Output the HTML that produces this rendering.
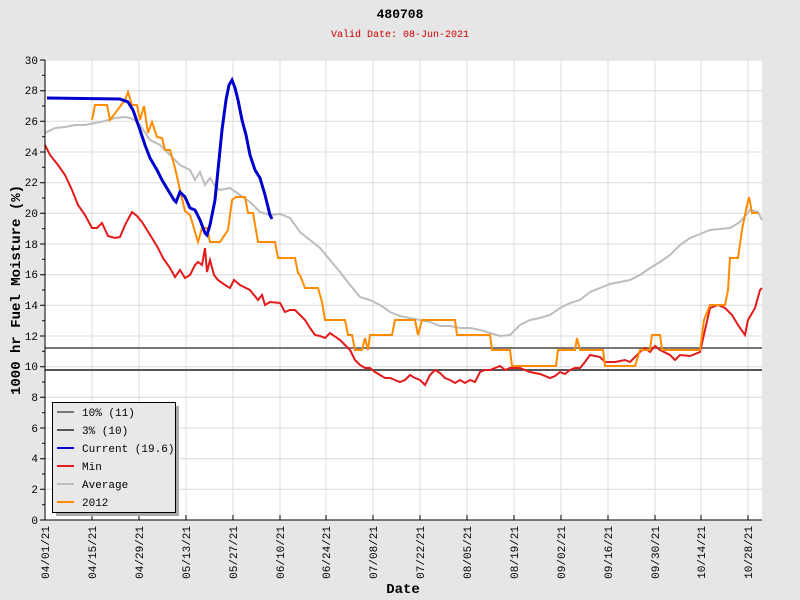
<!DOCTYPE html>
<html><head><meta charset="utf-8"><style>body{margin:0;background:#e6e6e6}svg{display:block}text{font-family:"Liberation Mono",monospace}</style></head><body>
<svg width="800" height="600" viewBox="0 0 800 600" xmlns="http://www.w3.org/2000/svg">
<rect width="800" height="600" fill="#e6e6e6"/>
<rect x="45" y="60" width="717" height="460" fill="#fff"/>
<g stroke="#dcdcdc" stroke-width="1">
<line x1="45" x2="762" y1="489.3" y2="489.3"/><line x1="45" x2="762" y1="458.7" y2="458.7"/><line x1="45" x2="762" y1="428" y2="428"/><line x1="45" x2="762" y1="397.3" y2="397.3"/><line x1="45" x2="762" y1="366.7" y2="366.7"/><line x1="45" x2="762" y1="336" y2="336"/><line x1="45" x2="762" y1="305.3" y2="305.3"/><line x1="45" x2="762" y1="274.7" y2="274.7"/><line x1="45" x2="762" y1="244" y2="244"/><line x1="45" x2="762" y1="213.3" y2="213.3"/><line x1="45" x2="762" y1="182.7" y2="182.7"/><line x1="45" x2="762" y1="152" y2="152"/><line x1="45" x2="762" y1="121.3" y2="121.3"/><line x1="45" x2="762" y1="90.7" y2="90.7"/><line x1="45" x2="762" y1="60" y2="60"/>
<line y1="60" y2="520" x1="92" x2="92"/><line y1="60" y2="520" x1="139" x2="139"/><line y1="60" y2="520" x1="186" x2="186"/><line y1="60" y2="520" x1="233" x2="233"/><line y1="60" y2="520" x1="280" x2="280"/><line y1="60" y2="520" x1="326" x2="326"/><line y1="60" y2="520" x1="373" x2="373"/><line y1="60" y2="520" x1="420" x2="420"/><line y1="60" y2="520" x1="467" x2="467"/><line y1="60" y2="520" x1="514" x2="514"/><line y1="60" y2="520" x1="561" x2="561"/><line y1="60" y2="520" x1="608" x2="608"/><line y1="60" y2="520" x1="655" x2="655"/><line y1="60" y2="520" x1="701" x2="701"/><line y1="60" y2="520" x1="748" x2="748"/>
</g>
<line x1="45" x2="762" y1="348" y2="348" stroke="#777" stroke-width="2"/>
<line x1="45" x2="762" y1="370" y2="370" stroke="#555" stroke-width="2"/>
<polyline fill="none" stroke="#bdbdbd" stroke-width="2" points="45,133 55,128 65,127 75,125 85,125 95,123 105,121 115,118 125,117 130,118 135,120 140,125 150,140 160,145 170,155 180,165 190,170 195,180 200,172 205,185 210,178 215,186 220,190 230,188 240,195 250,202 260,212 270,215 280,214 290,218 300,232 310,240 320,248 330,260 340,272 350,285 360,297 370,300 380,305 390,312 400,316 410,318 420,320 430,322 440,326 450,326 460,328 470,328 480,330 490,333 500,336 510,335 520,325 530,320 540,318 550,315 560,308 570,303 580,300 590,292 600,288 610,284 620,282 630,280 640,275 650,268 660,262 670,255 680,245 690,238 700,234 710,230 720,229 730,228 740,222 750,210 758,212 762,220"/>
<polyline fill="none" stroke="#e31a1c" stroke-width="2" points="45,145 50,155 58,165 65,175 72,190 78,205 85,215 92,228 97,228 102,223 108,236 115,238 120,237 125,225 132,212 137,216 142,222 147,230 152,238 158,248 163,258 170,268 175,277 180,270 185,278 190,275 195,265 198,262 202,265 205,248 207,272 210,260 214,275 218,280 225,285 230,288 234,280 240,285 250,290 258,300 262,295 265,305 270,302 280,303 285,312 290,310 295,310 300,315 305,320 310,328 315,335 320,336 325,338 330,333 340,340 345,345 350,350 355,360 360,365 365,368 370,368 375,372 380,375 385,378 390,378 395,380 400,382 405,380 410,375 415,378 420,380 425,385 430,375 435,370 440,373 445,378 450,380 455,383 460,380 465,383 470,380 475,382 480,372 485,370 490,370 495,368 500,366 505,370 510,368 520,368 530,372 540,374 550,378 555,376 560,372 565,374 570,370 575,368 580,368 585,362 590,355 600,357 605,362 615,362 625,360 630,362 640,352 645,348 650,352 655,346 660,350 670,355 675,360 680,355 690,356 700,352 705,330 710,308 718,305 725,308 732,315 738,325 745,335 748,320 755,308 760,290 762,288"/>
<polyline fill="none" stroke="#ff8c00" stroke-width="2" points="92,120 95,105 107,105 110,120 125,100 128,92 132,105 137,105 140,120 144,106 148,133 152,122 157,137 162,138 165,150 170,150 175,168 180,190 185,211 190,215 193,225 198,242 202,228 207,228 210,242 220,242 228,230 232,200 236,197 245,197 248,213 253,213 258,242 275,242 278,258 295,258 298,273 300,275 305,288 318,288 322,302 325,320 345,320 348,335 352,335 355,350 362,350 365,338 368,350 370,335 392,335 395,320 415,320 418,335 422,320 455,320 457,335 490,335 492,350 510,350 512,366 556,366 558,350 575,350 577,338 580,350 603,350 605,366 635,366 640,350 650,350 652,335 660,335 662,350 700,350 704,320 710,305 725,305 728,290 730,258 738,258 742,230 746,210 749,197 752,213 758,213"/>
<polyline fill="none" stroke="#0000cc" stroke-width="3" points="47,98 120,99 128,102 133,110 140,130 145,145 150,158 157,170 162,180 168,190 174,200 176,202 180,192 185,197 190,208 195,210 200,220 205,233 207,235 210,225 215,200 218,170 222,130 226,100 229,85 232,80 235,88 238,100 242,120 246,135 250,155 255,170 260,178 265,195 270,215 272,219"/>
<g stroke="#000" stroke-width="1">
<line x1="45" y1="60" x2="45" y2="520"/><line x1="45" y1="520" x2="762" y2="520"/>
</g>
<g stroke="#000" stroke-width="1">
<path d="M40,520h5M40,489.3h5M40,458.7h5M40,428h5M40,397.3h5M40,366.7h5M40,336h5M40,305.3h5M40,274.7h5M40,244h5M40,213.3h5M40,182.7h5M40,152h5M40,121.3h5M40,90.7h5M40,60h5"/>
<path d="M42,504.7h3M42,474h3M42,443.3h3M42,412.7h3M42,382h3M42,351.3h3M42,320.7h3M42,290h3M42,259.3h3M42,228.7h3M42,198h3M42,167.3h3M42,136.7h3M42,106h3M42,75.3h3"/>
<path d="M92,515v5M139,515v5M186,515v5M233,515v5M280,515v5M326,515v5M373,515v5M420,515v5M467,515v5M514,515v5M561,515v5M608,515v5M655,515v5M701,515v5M748,515v5"/>
</g>
<g font-size="11" text-anchor="end" fill="#000">
<text x="38" y="524">0</text><text x="38" y="493">2</text><text x="38" y="462">4</text><text x="38" y="432">6</text><text x="38" y="401">8</text><text x="38" y="370">10</text><text x="38" y="340">12</text><text x="38" y="309">14</text><text x="38" y="278">16</text><text x="38" y="248">18</text><text x="38" y="217">20</text><text x="38" y="186">22</text><text x="38" y="156">24</text><text x="38" y="125">26</text><text x="38" y="94">28</text><text x="38" y="64">30</text>
</g>
<g font-size="11" text-anchor="end" fill="#000">
<text transform="translate(49,526) rotate(-90)">04/01/21</text><text transform="translate(96,526) rotate(-90)">04/15/21</text><text transform="translate(143,526) rotate(-90)">04/29/21</text><text transform="translate(190,526) rotate(-90)">05/13/21</text><text transform="translate(237,526) rotate(-90)">05/27/21</text><text transform="translate(284,526) rotate(-90)">06/10/21</text><text transform="translate(330,526) rotate(-90)">06/24/21</text><text transform="translate(377,526) rotate(-90)">07/08/21</text><text transform="translate(424,526) rotate(-90)">07/22/21</text><text transform="translate(471,526) rotate(-90)">08/05/21</text><text transform="translate(518,526) rotate(-90)">08/19/21</text><text transform="translate(565,526) rotate(-90)">09/02/21</text><text transform="translate(612,526) rotate(-90)">09/16/21</text><text transform="translate(659,526) rotate(-90)">09/30/21</text><text transform="translate(705,526) rotate(-90)">10/14/21</text><text transform="translate(752,526) rotate(-90)">10/28/21</text>
</g>
<text x="400" y="18" font-size="13" font-weight="bold" text-anchor="middle">480708</text>
<text x="400" y="37" font-size="10" fill="#cc0000" text-anchor="middle">Valid Date: 08-Jun-2021</text>
<text transform="translate(20,290) rotate(-90)" font-size="14" font-weight="bold" text-anchor="middle">1000 hr Fuel Moisture (%)</text>
<text x="403" y="593" font-size="14" font-weight="bold" text-anchor="middle">Date</text>
<rect x="56" y="406" width="123" height="110" fill="#aaa"/>
<rect x="52.5" y="402.5" width="123" height="110" fill="#e8e8e8" stroke="#000"/>
<g stroke-width="2"><line x1="57" x2="74" y1="412" y2="412" stroke="#777"/><line x1="57" x2="74" y1="430" y2="430" stroke="#555"/><line x1="57" x2="74" y1="448" y2="448" stroke="#0000cc"/><line x1="57" x2="74" y1="466" y2="466" stroke="#e31a1c"/><line x1="57" x2="74" y1="484" y2="484" stroke="#bdbdbd"/><line x1="57" x2="74" y1="502" y2="502" stroke="#ff8c00"/></g>
<g font-size="11"><text x="82" y="416">10% (11)</text><text x="82" y="434">3% (10)</text><text x="82" y="452">Current (19.6)</text><text x="82" y="470">Min</text><text x="82" y="488">Average</text><text x="82" y="506">2012</text></g>
</svg>
</body></html>
